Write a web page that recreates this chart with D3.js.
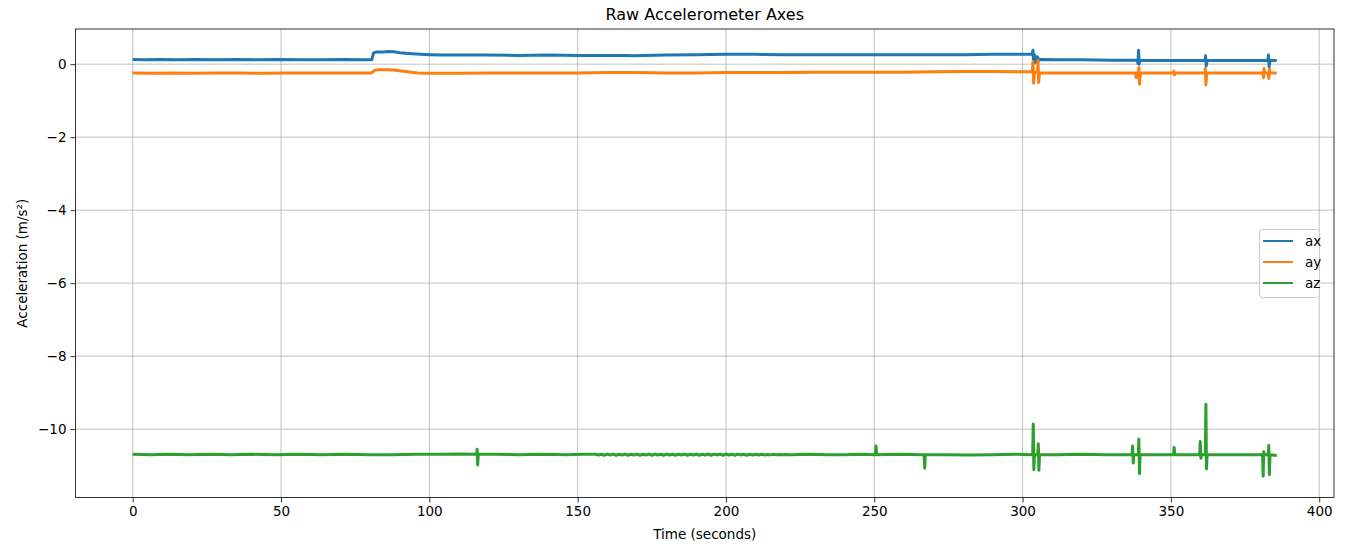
<!DOCTYPE html>
<html>
<head>
<meta charset="utf-8">
<script src="https://cdn.jsdelivr.net/npm/d3@7"></script>
<style>
  html, body { margin: 0; padding: 0; background: #fff; }
  svg { display: block; font-family: "DejaVu Sans", sans-serif; }
</style>
</head>
<body>
<svg id="chart" width="1357" height="552"></svg>
<script>
// ---- data ----
const seriesNames = ["ax", "ay", "az"];
const xTicks = [0, 50, 100, 150, 200, 250, 300, 350, 400];
const yTicks = [0, -2, -4, -6, -8, -10];

const axData = [
  [0,0.13],[4,0.12],[9,0.13],[15,0.12],[21,0.13],[28,0.12],[35,0.13],[42,0.12],[50,0.13],[57,0.12],[64,0.12],[71,0.13],[78,0.12],[80.6,0.12],
  [81.2,0.31],[82,0.33],[84,0.33],[86,0.35],[88,0.34],[90,0.31],[93,0.29],[97,0.27],[100,0.26],[105,0.25],[112,0.25],[120,0.25],
  [130,0.24],[140,0.25],[150,0.24],[160,0.24],[166,0.24],[169,0.23],[172,0.24],[180,0.25],[190,0.26],[200,0.27],[210,0.27],
  [220,0.26],[230,0.26],[240,0.26],[250,0.26],[260,0.26],[270,0.26],[280,0.26],[290,0.27],[300,0.27],[303.2,0.27],
  [303.5,0.38],[303.7,0.02],[304,0.26],[304.6,0.05],[305,0.2],[305.4,0.1],[306,0.13],[312,0.12],[320,0.12],[330,0.11],
  [338.6,0.11],[338.9,0.02],[339.1,0.38],[339.3,0.0],[339.6,0.1],[345,0.1],[352,0.1],[358,0.1],[361.5,0.1],[361.7,0.23],
  [361.9,-0.05],[362.2,0.1],[370,0.1],[377,0.1],[382.7,0.1],[382.9,0.25],[383.1,-0.07],[383.4,0.1],[385.7,0.1]
];
const ayData = [
  [0,-0.24],[6,-0.25],[13,-0.24],[20,-0.25],[28,-0.24],[36,-0.24],[44,-0.25],[52,-0.24],[60,-0.24],[68,-0.24],[75,-0.24],[80.5,-0.24],
  [81.5,-0.17],[83,-0.15],[86,-0.15],[88,-0.16],[92,-0.2],[96,-0.24],[100,-0.25],[110,-0.25],[120,-0.24],[130,-0.24],[140,-0.24],
  [150,-0.24],[160,-0.23],[170,-0.23],[180,-0.24],[190,-0.24],[200,-0.23],[210,-0.23],[220,-0.23],[230,-0.22],[240,-0.22],
  [250,-0.22],[260,-0.22],[270,-0.21],[280,-0.2],[290,-0.2],[300,-0.21],[303.3,-0.21],[303.5,0.07],[303.7,-0.52],[304,-0.22],
  [305,-0.22],[305.2,0.1],[305.4,-0.5],[305.7,-0.24],[312,-0.24],[320,-0.24],[330,-0.24],[338.1,-0.24],[338.3,-0.37],[338.5,-0.24],
  [339.1,-0.24],[339.2,-0.09],[339.4,-0.55],[339.7,-0.24],[345,-0.24],[350.9,-0.24],[351,-0.19],[351.2,-0.29],[351.4,-0.24],
  [356,-0.24],[361.5,-0.24],[361.6,-0.12],[361.8,-0.57],[362.1,-0.24],[370,-0.24],[376,-0.24],[381,-0.24],[381.2,-0.37],
  [381.4,-0.12],[381.6,-0.24],[382.8,-0.24],[383,-0.39],[383.2,-0.13],[383.4,-0.24],[385.7,-0.24]
];
const azData = [
  [0,-10.69],[6,-10.7],[12,-10.69],[19,-10.7],[26,-10.69],[33,-10.7],[40,-10.69],[48,-10.7],[56,-10.69],[64,-10.7],[72,-10.69],
  [80,-10.7],[88,-10.7],[96,-10.69],[104,-10.69],[110,-10.68],[116,-10.69],[116.1,-10.55],[116.3,-10.98],[116.5,-10.69],
  [122,-10.69],[130,-10.7],[138,-10.69],[146,-10.7],[152,-10.69],
  [156,-10.69],[157,-10.71],[158,-10.69],[159,-10.715],[160,-10.685],[161,-10.71],[162,-10.685],[163,-10.715],[164,-10.69],[165,-10.71],
  [166,-10.685],[167,-10.715],[168,-10.69],[169,-10.71],[170,-10.685],[171,-10.715],[172,-10.69],[173,-10.71],[174,-10.685],[175,-10.715],
  [176,-10.685],[177,-10.71],[178,-10.69],[179,-10.715],[180,-10.685],[181,-10.71],[182,-10.69],[183,-10.715],[184,-10.685],[185,-10.71],
  [186,-10.685],[187,-10.715],[188,-10.69],[189,-10.71],[190,-10.685],[191,-10.715],[192,-10.69],[193,-10.71],[194,-10.685],[195,-10.715],
  [196,-10.685],[197,-10.71],[198,-10.685],[199,-10.715],[200,-10.685],[201,-10.71],[202,-10.69],[203,-10.715],[204,-10.685],[205,-10.71],
  [206,-10.69],[207,-10.715],[208,-10.69],[209,-10.71],[210,-10.69],[211,-10.71],[212,-10.69],[213,-10.71],[214,-10.695],[215,-10.705],
  [216,-10.69],[217,-10.705],[218,-10.695],[219,-10.705],[220,-10.695],[222,-10.7],
  [228,-10.69],[234,-10.7],[240,-10.7],[246,-10.69],[250.4,-10.7],[250.6,-10.46],[250.8,-10.7],[258,-10.69],[266.8,-10.7],
  [267,-11.07],[267.2,-10.7],[274,-10.7],[282,-10.71],[290,-10.7],[298,-10.69],[303.4,-10.7],[303.6,-9.86],[303.8,-11.11],
  [304,-10.7],[305.1,-10.7],[305.3,-10.4],[305.5,-11.13],[305.7,-10.7],[312,-10.7],[320,-10.69],[328,-10.7],[336.9,-10.7],
  [337.1,-10.46],[337.3,-10.93],[337.5,-10.7],[339,-10.7],[339.2,-10.27],[339.4,-11.22],[339.6,-10.7],[345,-10.7],[350.9,-10.7],
  [351.1,-10.5],[351.3,-10.7],[356,-10.7],[359.7,-10.7],[359.9,-10.34],[360.1,-10.8],[360.3,-10.7],[361.6,-10.7],[361.8,-9.32],
  [362,-11.09],[362.2,-10.7],[368,-10.7],[375,-10.7],[380.9,-10.7],[381.1,-11.29],[381.3,-10.62],[381.5,-10.7],[382.8,-10.7],
  [383,-10.45],[383.2,-11.25],[383.4,-10.7],[385.7,-10.72]
];
const colors = ["#1f77b4", "#ff7f0e", "#2ca02c"];
const allSeries = [axData, ayData, azData];

// ---- layout ----
const svg = d3.select("#chart");
const L = 75.5, R = 1334, T = 29, B = 497.5;

const xs = allSeries.flat().map(d => d[0]);
const ys = allSeries.flat().map(d => d[1]);
const [x0, x1] = d3.extent(xs), [y0, y1] = d3.extent(ys);
const xp = (x1 - x0) * 0.05, yp = (y1 - y0) * 0.05;
const x = d3.scaleLinear().domain([x0 - xp, x1 + xp]).range([L, R]);
const y = d3.scaleLinear().domain([y0 - yp, y1 + yp]).range([B, T]);

// grid
const grid = svg.append("g");
grid.selectAll(".gx").data(xTicks).join("line")
  .attr("x1", d => x(d)).attr("x2", d => x(d)).attr("y1", T).attr("y2", B)
  .attr("stroke", "#b0b0b0").attr("stroke-width", 0.8);
grid.selectAll(".gy").data(yTicks).join("line")
  .attr("y1", d => y(d)).attr("y2", d => y(d)).attr("x1", L).attr("x2", R)
  .attr("stroke", "#b0b0b0").attr("stroke-width", 0.8);

// lines
const line = d3.line().x(d => x(d[0])).y(d => y(d[1]));
allSeries.forEach((s, i) => {
  svg.append("path").datum(s).attr("d", line)
    .attr("fill", "none").attr("stroke", colors[i]).attr("stroke-width", 3)
    .attr("stroke-linejoin", "round").attr("stroke-linecap", "butt");
});

// axes
const fmt = d => (d < 0 ? "\u2212" + Math.abs(d) : String(d));
const xAxis = svg.append("g").attr("transform", `translate(0,${B})`)
  .call(d3.axisBottom(x).tickValues(xTicks).tickFormat(fmt).tickSizeOuter(0).tickSize(5).tickPadding(4));
const yAxis = svg.append("g").attr("transform", `translate(${L},0)`)
  .call(d3.axisLeft(y).tickValues(yTicks).tickFormat(fmt).tickSizeOuter(0).tickSize(5).tickPadding(4));
[xAxis, yAxis].forEach(g => {
  g.select(".domain").remove();
  g.selectAll("line").attr("stroke", "#000").attr("stroke-width", 0.8);
  g.selectAll("text").attr("font-family", "DejaVu Sans, sans-serif").attr("font-size", 13.5).attr("fill", "#000");
});

// spines
svg.append("rect").attr("x", L).attr("y", T).attr("width", R - L).attr("height", B - T)
  .attr("fill", "none").attr("stroke", "#000").attr("stroke-width", 0.8);

// title & labels
svg.append("text").attr("x", (L + R) / 2).attr("y", 20).attr("text-anchor", "middle")
  .attr("font-size", 16).attr("fill", "#000").text("Raw Accelerometer Axes");
svg.append("text").attr("x", (L + R) / 2).attr("y", 539).attr("text-anchor", "middle")
  .attr("font-size", 13.5).attr("fill", "#000").text("Time (seconds)");
svg.append("text").attr("transform", `translate(27,${(T + B) / 2}) rotate(-90)`).attr("text-anchor", "middle")
  .attr("font-size", 13.5).attr("fill", "#000").text("Acceleration (m/s²)");

// legend
const lg = svg.append("g");
lg.append("rect").attr("x", 1259.5).attr("y", 229.5).attr("width", 60).attr("height", 68).attr("rx", 3)
  .attr("fill", "#fff").attr("fill-opacity", 0.8).attr("stroke", "#cccccc").attr("stroke-width", 1);
seriesNames.forEach((n, i) => {
  const yy = 241 + i * 21;
  lg.append("line").attr("x1", 1263).attr("x2", 1293).attr("y1", yy).attr("y2", yy)
    .attr("stroke", colors[i]).attr("stroke-width", 2);
  lg.append("text").attr("x", 1305).attr("y", yy + 5).attr("font-size", 13.5).attr("fill", "#000").text(n);
});
</script>
</body>
</html>
